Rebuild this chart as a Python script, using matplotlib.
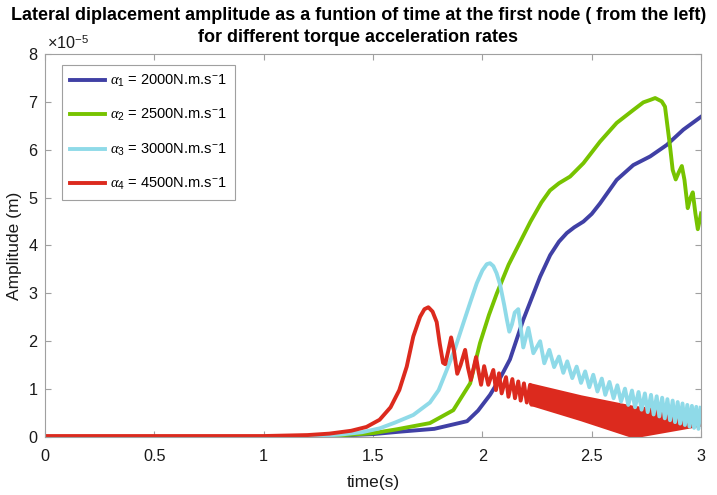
import matplotlib
matplotlib.use("Agg")
import matplotlib.pyplot as plt

# amplitudes are in units of 1e-5 m
blue_t = [0, 1.0, 1.3, 1.5, 1.62, 1.78, 1.93, 1.98, 2.035, 2.08, 2.126, 2.187, 2.264, 2.31,
          2.35, 2.386, 2.42, 2.462, 2.5, 2.538, 2.614, 2.69, 2.767, 2.843, 2.919, 3.0]
blue_y = [0, 0, 0.02, 0.06, 0.11, 0.17, 0.33, 0.55, 0.88, 1.22, 1.62, 2.45, 3.35, 3.8,
          4.08, 4.26, 4.38, 4.5, 4.66, 4.88, 5.37, 5.68, 5.86, 6.1, 6.42, 6.69]

green_t = [0, 1.0, 1.3, 1.5, 1.608, 1.76, 1.867, 1.944, 1.989, 2.03, 2.066, 2.12, 2.17, 2.22,
           2.27, 2.309, 2.35, 2.401, 2.462, 2.538, 2.614, 2.69, 2.736, 2.767, 2.79, 2.82,
           2.835, 2.858, 2.87, 2.884, 2.899, 2.912, 2.924, 2.939, 2.951, 2.962, 2.974,
           2.985, 3.0]
green_y = [0, 0, 0.02, 0.08, 0.16, 0.29, 0.56, 1.12, 1.96, 2.55, 3.0, 3.6, 4.05, 4.5,
           4.9, 5.15, 5.3, 5.44, 5.72, 6.17, 6.56, 6.83, 6.99, 7.04, 7.08, 7.01,
           6.9, 6.07, 5.58, 5.38, 5.54, 5.66, 5.37, 4.78, 4.99, 5.11, 4.67,
           4.34, 4.67]

cyan_t = [0, 1.0, 1.2, 1.35, 1.45, 1.53, 1.6, 1.684, 1.76, 1.8, 1.837, 1.875, 1.913, 1.945,
          1.974, 2.0, 2.02, 2.035, 2.05, 2.065, 2.081, 2.1, 2.112, 2.123, 2.135, 2.148,
          2.164, 2.175, 2.187, 2.21, 2.233, 2.264, 2.283, 2.306, 2.328, 2.35, 2.37, 2.388,
          2.411, 2.431, 2.451, 2.47, 2.489, 2.507, 2.526, 2.546, 2.562, 2.581, 2.6, 2.617,
          2.634, 2.652, 2.667, 2.684, 2.698, 2.714, 2.728, 2.743, 2.756, 2.771, 2.783,
          2.797, 2.809, 2.822, 2.834, 2.846, 2.858, 2.87, 2.881, 2.893, 2.904, 2.915,
          2.926, 2.937, 2.947, 2.958, 2.968, 2.978, 2.988, 2.998]
cyan_y = [0, 0, 0.01, 0.05, 0.1, 0.18, 0.3, 0.46, 0.72, 0.98, 1.4, 1.85, 2.38, 2.82,
          3.21, 3.48, 3.61, 3.63, 3.57, 3.42, 3.18, 2.75, 2.45, 2.2, 2.35, 2.6,
          2.67, 2.3, 1.87, 2.28, 1.75, 2.0, 1.54, 1.82, 1.46, 1.68, 1.34, 1.58,
          1.23, 1.47, 1.13, 1.37, 1.04, 1.3, 0.95, 1.22, 0.88, 1.15, 0.81, 1.08,
          0.74, 1.01, 0.67, 0.97, 0.62, 0.94, 0.57, 0.91, 0.52, 0.88, 0.47,
          0.85, 0.43, 0.82, 0.39, 0.79, 0.35, 0.76, 0.31, 0.73, 0.28, 0.7,
          0.25, 0.67, 0.22, 0.65, 0.19, 0.63, 0.17, 0.61]

red_t = [0, 1.0, 1.2, 1.3, 1.4, 1.47, 1.53, 1.58, 1.62, 1.654, 1.684, 1.715, 1.735, 1.753,
         1.772, 1.791, 1.805, 1.82, 1.83, 1.843, 1.857, 1.87, 1.885, 1.9, 1.921, 1.934,
         1.947, 1.958, 1.971, 1.983, 1.994, 2.008, 2.027, 2.05, 2.062, 2.076, 2.088,
         2.108, 2.119, 2.137, 2.149, 2.164, 2.175, 2.19, 2.203, 2.218, 2.228]
red_y = [0.02, 0.02, 0.04, 0.07, 0.13, 0.21, 0.36, 0.62, 0.98, 1.47, 2.1, 2.51, 2.67, 2.71,
         2.62, 2.4, 1.95, 1.55, 1.52, 1.78, 2.08, 1.8, 1.32, 1.5, 1.82, 1.45,
         1.19, 1.4, 1.67, 1.35, 1.09, 1.48, 1.09, 1.4, 0.98, 1.33, 0.91,
         1.25, 0.84, 1.21, 0.81, 1.16, 0.76, 1.12, 0.72, 1.09, 0.68]
# dense oscillation of the red curve: upper and lower envelope
red_band_t = [2.22, 2.45, 2.69, 3.0]
red_band_hi = [1.09, 0.84, 0.62, 0.48]
red_band_lo = [0.7, 0.38, 0.02, 0.27]

labels = [r"$\alpha_1$ = 2000N.m.s$^{-}$1", r"$\alpha_2$ = 2500N.m.s$^{-}$1",
          r"$\alpha_3$ = 3000N.m.s$^{-}$1", r"$\alpha_4$ = 4500N.m.s$^{-}$1"]
colors = ["#4040a5", "#77c300", "#8fdae8", "#dc2a1e"]

plt.rcParams["font.family"] = ["Liberation Sans", "DejaVu Sans"]
plt.rcParams["mathtext.fontset"] = "custom"
plt.rcParams["mathtext.rm"] = "Liberation Sans"
plt.rcParams["mathtext.it"] = "Liberation Serif:italic"

fig = plt.figure(figsize=(7.17, 4.95), dpi=100)
ax = fig.add_axes([0.0628, 0.1172, 0.915, 0.7737])
lw = 2.8

ax.plot(blue_t, blue_y, color=colors[0], lw=lw, label=labels[0])
ax.plot(green_t, green_y, color=colors[1], lw=lw, label=labels[1])
ax.plot(cyan_t, cyan_y, color=colors[2], lw=lw, label=labels[2])
ax.plot(red_t, red_y, color=colors[3], lw=lw, label=labels[3])
ax.fill_between(red_band_t, red_band_lo, red_band_hi, facecolor=colors[3],
                edgecolor=colors[3], lw=lw, joinstyle="round")

ax.set_xlim(0, 3)
ax.set_ylim(0, 8)
ax.set_xticks([0, 0.5, 1, 1.5, 2, 2.5, 3])
ax.set_xticklabels(["0", "0.5", "1", "1.5", "2", "2.5", "3"])
ax.set_yticks(range(9))
for s in ax.spines.values():
    s.set_color("#a0a0a0")
ax.tick_params(direction="in", top=True, right=True, length=4, width=0.8,
               color="#a0a0a0", labelsize=11.7, labelcolor="#1a1a1a")
ax.tick_params(axis="x", pad=9)
ax.tick_params(axis="y", pad=5.5)

ax.text(0.003, 1.004, r"×10$^{-5}$", transform=ax.transAxes, fontsize=11.7,
        color="#1a1a1a", va="bottom", ha="left")
ax.set_xlabel("time(s)", fontsize=12.5, color="#1a1a1a")
ax.set_ylabel("Amplitude (m)", fontsize=12.5, color="#1a1a1a")
ax.xaxis.set_label_coords(0.5, -0.1)
ax.yaxis.set_label_coords(-0.035, 0.5)

fig.text(0.5, 1 - 19.5 / 495, "Lateral diplacement amplitude as a funtion of time at the first node ( from the left)",
         ha="center", va="baseline", fontsize=13, fontweight="bold")
fig.text(0.5, 1 - 42 / 495, "for different torque acceleration rates",
         ha="center", va="baseline", fontsize=13, fontweight="bold")

leg = ax.legend(loc="upper left", bbox_to_anchor=(0.0259, 0.9713), borderaxespad=0,
                fontsize=10.5, handlelength=2.4, handletextpad=0.35, labelspacing=1.25,
                borderpad=0.55, fancybox=False, framealpha=1)
leg.get_frame().set_edgecolor("#a0a0a0")
leg.get_frame().set_linewidth(0.8)

fig.savefig("out.png", dpi=100)
